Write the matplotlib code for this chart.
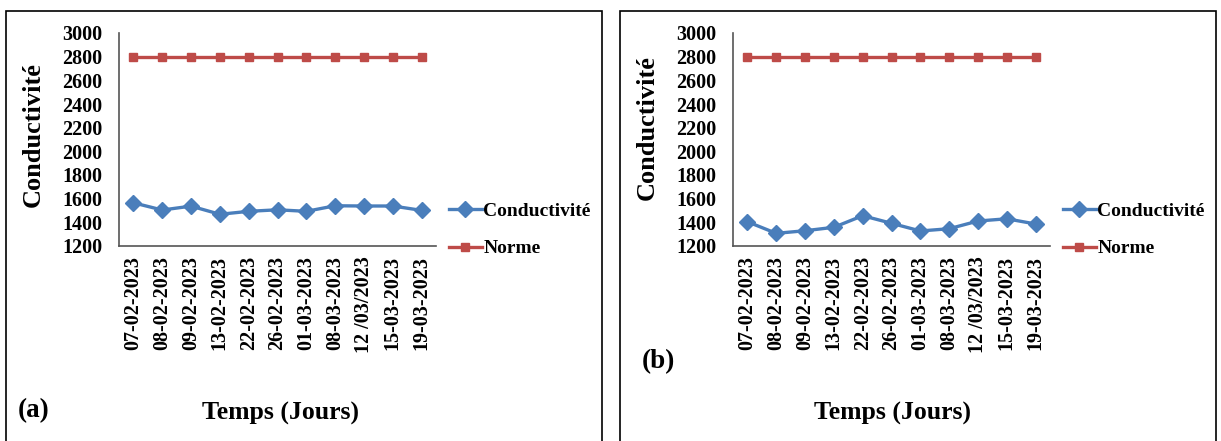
import matplotlib
matplotlib.use("Agg")
import matplotlib.pyplot as plt
from matplotlib.patches import Rectangle

# dates on the x axis (same for both panels)
dates = ["07-02-2023", "08-02-2023", "09-02-2023", "13-02-2023", "22-02-2023",
         "26-02-2023", "01-03-2023", "08-03-2023", "12 /03/2023", "15-03-2023",
         "19-03-2023"]

# conductivity readings, panel (a) and (b)
cond_a = [1565, 1504, 1537, 1468, 1493, 1506, 1493, 1540, 1538, 1538, 1501]
cond_b = [1405, 1307, 1329, 1358, 1456, 1392, 1327, 1346, 1411, 1430, 1386]
norme = [2800] * len(dates)

BLUE = "#4A7EBB"
RED = "#BE4B48"
W, H = 1221, 441

plt.rcParams["font.family"] = ["Liberation Serif", "DejaVu Serif"]
plt.rcParams["font.weight"] = "bold"

fig = plt.figure(figsize=(W / 100, H / 100), dpi=100)


def px(x0, y0, x1, y1):
    # pixel box (top-left origin) -> figure fraction rect
    return [x0 / W, 1 - y1 / H, (x1 - x0) / W, (y1 - y0) / H]


def panel(ax_box, frame_x0, frame_x1, values, tag, tag_pos, ylab_x, ylab_y, xlab_x):
    fig.patches.append(Rectangle((frame_x0 / W, -0.05), (frame_x1 - frame_x0) / W,
                                 1 - 11 / H + 0.05, transform=fig.transFigure,
                                 fill=False, edgecolor="black", linewidth=1.2))
    ax = fig.add_axes(px(*ax_box))
    x = list(range(len(dates)))
    ax.plot(x, values, color=BLUE, lw=2.4, marker="D", ms=8.5, label="Conductivité")
    ax.plot(x, norme, color=RED, lw=2.4, marker="s", ms=6, label="Norme")
    ax.set_xlim(-0.5, len(dates) - 0.5)
    ax.set_ylim(1200, 3000)
    ax.set_yticks(range(1200, 3001, 200))
    ax.set_xticks(x)
    ax.set_xticklabels(dates, rotation=90)
    ax.tick_params(axis="both", length=0, labelsize=14.5)
    ax.tick_params(axis="y", pad=12)
    ax.tick_params(axis="x", pad=7)
    for s in ["top", "right"]:
        ax.spines[s].set_visible(False)
    for s in ["left", "bottom"]:
        ax.spines[s].set_color("#555555")
        ax.spines[s].set_linewidth(1.2)
    ax.legend(loc="center left", bbox_to_anchor=(1.015, 0.075), frameon=False,
              fontsize=14, handlelength=1.7, handletextpad=0.08,
              labelspacing=1.0, borderaxespad=0)
    fig.text(ylab_x / W, 1 - ylab_y / H, "Conductivité", rotation=90,
             ha="center", va="center", fontsize=19)
    fig.text(xlab_x / W, 1 - 413 / H, "Temps (Jours)", ha="center", va="center",
             fontsize=18.5)
    fig.text(tag_pos[0] / W, 1 - tag_pos[1] / H, tag, ha="left", va="center",
             fontsize=19.5)


panel((119, 33, 436, 246), 6, 602, cond_a, "(a)", (18, 411), 33, 135, 280)
panel((733, 33, 1050, 246), 620, 1216, cond_b, "(b)", (642, 362), 647, 128, 893)

fig.savefig("out.png", dpi=100)
